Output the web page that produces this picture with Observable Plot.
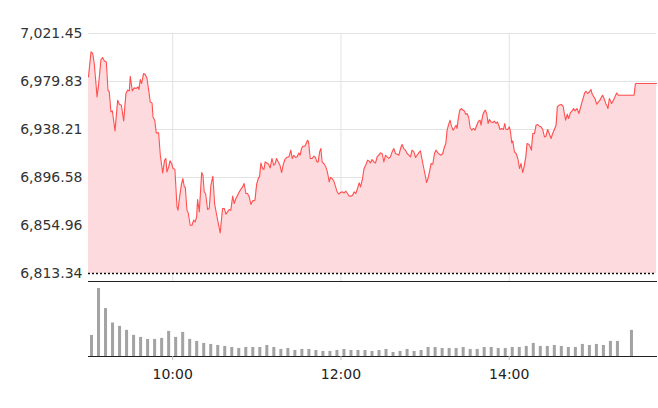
<!DOCTYPE html>
<html><head><meta charset="utf-8">
<script src="https://cdn.jsdelivr.net/npm/d3@7"></script>
<script src="https://cdn.jsdelivr.net/npm/@observablehq/plot@0.6"></script>
<style>
html,body{margin:0;padding:0;background:#fff;}
#chart svg{display:block;}
</style></head><body><div id="chart"></div>
<script>
// minutes after the 09:00 open
const minutes = [0,1.8,3.0,4.1,6.1,7.3,8.9,10.1,11.3,12.7,13.9,14.8,16.0,17.0,18.9,20.8,22.0,23.4,25.1,26.7,27.9,29.1,29.8,31.2,32.6,34.1,35.3,36.0,36.9,37.9,39.3,40.5,41.7,42.9,44.0,45.3,46.0,47.2,48.3,50.0,51.2,52.9,54.3,55.2,55.9,57.2,58.1,59.3,60.2,61.6,63.1,63.8,65.0,66.3,67.3,68.3,69.0,70.2,71.1,72.5,73.8,75.0,76.1,77.1,77.8,79.0,80.7,81.6,82.5,83.5,84.9,86.1,87.3,88.7,89.9,91.4,92.8,93.9,95.6,96.8,98.0,99.2,100.3,101.5,102.8,103.9,105.1,106.3,107.5,108.7,109.9,111.0,112.2,113.4,114.6,115.8,117.0,118.7,119.9,121.3,122.0,122.9,124.1,125.1,126.0,127.2,128.4,129.6,130.8,132.0,133.1,134.1,135.3,136.5,137.7,138.8,140.0,141.2,142.9,144.3,145.2,146.4,147.7,148.8,150.0,150.9,151.9,152.9,154.3,155.2,156.2,156.9,158.1,159.5,160.7,161.9,162.8,163.8,164.8,165.7,166.6,167.8,169.0,170.0,170.9,171.6,172.6,173.7,174.9,176.2,177.3,178.5,179.7,181.1,182.3,183.5,184.7,185.8,187.1,188.3,189.4,190.6,191.8,193.0,194.0,195.4,196.5,197.7,199.0,199.9,201.1,202.2,203.4,204.7,205.8,207.0,208.2,209.4,210.6,211.8,212.9,214.1,215.3,216.5,217.7,218.9,220.1,221.3,222.5,223.6,224.8,226.0,227.2,228.4,229.6,230.7,232.0,233.2,234.3,235.5,236.7,237.9,239.1,240.3,241.0,242.1,243.4,244.3,245.5,246.7,247.8,249.1,250.3,251.4,252.6,253.8,254.8,255.7,256.9,257.8,258.8,260.0,261.2,262.1,262.8,263.5,264.7,265.9,267.1,268.1,268.8,269.9,271.1,272.1,273.3,274.5,275.6,276.8,278.1,279.2,279.9,281.1,282.3,283.0,284.0,284.9,285.9,287.0,288.2,289.5,290.6,291.6,292.5,293.4,294.7,295.9,296.8,297.7,298.9,300.1,300.9,301.8,302.5,303.7,304.9,306.1,307.3,308.4,309.6,310.6,311.8,312.7,313.9,314.8,315.8,316.8,318.0,319.1,320.3,321.5,322.7,323.9,325.1,326.2,327.4,328.7,329.8,331.0,332.2,333.4,334.3,335.5,337.1,338.4,339.5,340.2,341.4,342.3,343.6,344.8,345.9,346.9,348.3,349.7,351.0,351.9,352.9,353.8,354.7,355.9,357.2,358.3,359.0,360.0,361.1,362.4,363.6,364.7,365.9,366.6,367.6,368.8,369.5,370.4,371.4,372.3,373.0,374.3,375.4,376.6,377.8,379.0,389.0,390.0,405.0];
const prices = [6983.8,7005.5,7004.1,6995.4,6966.5,6978.1,6998.9,7000.6,6997.7,6996.8,6972.3,6970.8,6953.5,6954.3,6937.0,6963.6,6960.1,6959.3,6945.7,6969.4,6972.3,6971.7,6984.4,6971.7,6974.3,6973.8,6975.1,6972.9,6981.6,6978.1,6986.8,6985.9,6982.4,6972.3,6962.1,6961.3,6949.1,6946.3,6935.3,6935.3,6915.9,6900.6,6911.6,6913.1,6901.4,6905.8,6911.0,6908.7,6904.4,6903.8,6871.1,6868.2,6879.8,6890.8,6895.7,6888.4,6888.4,6868.2,6865.9,6855.2,6855.2,6859.6,6858.1,6862.4,6877.5,6866.8,6900.9,6898.6,6884.1,6882.7,6868.8,6869.7,6889.9,6897.7,6874.0,6863.9,6855.2,6848.5,6869.7,6869.7,6864.8,6866.8,6868.8,6868.2,6880.4,6874.0,6878.4,6881.2,6884.1,6886.4,6888.4,6891.4,6882.7,6882.7,6879.8,6873.2,6876.3,6876.9,6890.8,6896.6,6897.1,6909.2,6904.4,6903.5,6910.1,6909.2,6908.1,6904.9,6913.1,6907.3,6908.7,6913.1,6910.1,6907.3,6900.9,6907.3,6912.2,6913.9,6914.5,6920.3,6913.1,6915.9,6913.9,6914.5,6917.9,6915.9,6921.7,6923.7,6923.7,6926.1,6928.9,6927.5,6913.1,6913.1,6915.1,6913.9,6910.1,6910.1,6918.8,6921.7,6910.1,6908.7,6906.4,6902.9,6897.7,6892.8,6896.6,6895.7,6893.6,6888.4,6884.1,6882.1,6883.6,6884.1,6883.2,6884.7,6882.7,6880.6,6880.4,6881.2,6884.1,6882.7,6887.0,6891.9,6888.4,6895.7,6904.4,6907.3,6911.6,6911.0,6909.2,6912.2,6910.1,6909.2,6914.5,6915.9,6917.9,6917.4,6910.1,6915.9,6914.5,6913.1,6914.5,6918.8,6921.7,6917.4,6916.8,6915.9,6921.7,6925.2,6921.7,6920.3,6917.4,6915.9,6914.5,6920.3,6918.8,6913.9,6915.9,6917.9,6919.7,6911.6,6904.4,6897.1,6892.2,6895.7,6902.9,6908.7,6908.1,6917.4,6920.3,6917.9,6916.8,6915.9,6917.4,6923.1,6926.1,6937.6,6942.8,6946.3,6941.1,6937.6,6939.9,6941.9,6939.1,6946.3,6954.9,6956.4,6954.9,6954.3,6951.5,6952.1,6948.6,6939.9,6937.6,6939.1,6937.6,6941.9,6945.4,6946.3,6941.9,6950.6,6954.1,6954.9,6951.5,6943.4,6946.9,6944.8,6944.3,6945.4,6943.4,6944.8,6941.9,6938.2,6939.1,6938.2,6943.4,6938.2,6938.2,6940.5,6936.1,6926.6,6928.3,6918.8,6917.4,6913.1,6904.4,6908.7,6900.9,6905.8,6914.5,6926.1,6925.5,6923.7,6920.3,6934.7,6934.7,6941.9,6942.5,6941.1,6940.5,6938.2,6931.8,6932.4,6938.2,6934.1,6930.4,6934.7,6938.2,6941.9,6957.8,6959.3,6959.9,6958.4,6950.6,6946.3,6951.5,6947.7,6952.6,6954.3,6956.4,6954.3,6956.4,6952.1,6957.8,6962.1,6966.0,6969.9,6971.4,6969.4,6970.8,6972.9,6969.4,6967.1,6965.1,6960.1,6962.1,6963.6,6966.5,6967.9,6965.1,6960.8,6959.3,6956.4,6965.1,6962.7,6960.8,6963.6,6966.5,6969.9,6967.9,6967.9,6967.9,6978.1,6978.1];
// 5-minute volume bars from 09:00 (relative units)
const volumes = [63,203,143,100,90,78,63,57,51,51,54,75,57,72,51,45,39,36,33,30,27,24,27,27,27,33,27,21,24,18,21,21,18,15,15,18,21,18,18,18,15,18,21,12,15,21,15,18,27,27,24,24,24,27,21,21,27,27,24,24,27,27,30,39,30,30,33,30,27,27,36,33,36,33,45,45,0,78];
const yTicks = [6813.34, 6854.96, 6896.58, 6938.21, 6979.83, 7021.45];
const xTickLabels = ["10:00", "12:00", "14:00"];
const sessionOpen = "09:00";
const sessionEnd = "15:45";
const barMinutes = 5;

const at = (hhmm) => { const [h, m] = hhmm.split(":").map(Number); return new Date(2024, 0, 2, h, m); };
const t0 = at(sessionOpen);
const addMin = (m) => new Date(t0.getTime() + m * 60000);
const series = minutes.map((m, i) => ({t: addMin(m), p: prices[i]}));
const volData = volumes.map((v, i) => ({t1: addMin(i * barMinutes), t2: addMin((i + 1) * barMinutes), v}));
const xTicks = xTickLabels.map(at);
const xDomain = [t0, at(sessionEnd)];
const font = "'DejaVu Sans', sans-serif";

const priceChart = Plot.plot({
  width: 658, height: 282,
  marginLeft: 88, marginRight: 2, marginTop: 33, marginBottom: 1,
  style: {fontFamily: font, fontSize: "14px", background: "#fff", overflow: "visible"},
  x: {type: "time", domain: xDomain, axis: null, label: null},
  y: {domain: [yTicks[0], yTicks[yTicks.length - 1]], insetBottom: 8, axis: null, label: null},
  marks: [
    Plot.gridY(yTicks.slice(1), {stroke: "#e2e2e2", strokeOpacity: 1}),
    Plot.gridX(xTicks, {stroke: "#e2e2e2", strokeOpacity: 1}),
    Plot.areaY(series, {x: "t", y1: yTicks[0], y2: "p", fill: "#fddadd"}),
    Plot.lineY(series, {x: "t", y: "p", stroke: "#ff5050", strokeWidth: 1.1}),
    Plot.ruleY([yTicks[0]], {stroke: "#111", strokeWidth: 1.5, strokeDasharray: "2,2"}),
    Plot.axisY(yTicks, {tickSize: 0, tickPadding: 6, tickFormat: d3.format(",.2f"), fill: "#333", fontSize: 14, label: null}),
    Plot.frame({anchor: "bottom", stroke: "#222"})
  ]
});

const volumeChart = Plot.plot({
  width: 658, height: 126,
  marginLeft: 88, marginRight: 2, marginTop: 6, marginBottom: 52,
  style: {fontFamily: font, fontSize: "14px", background: "#fff", overflow: "visible"},
  x: {type: "time", domain: xDomain, axis: null, label: null},
  y: {domain: [0, d3.max(volumes)], axis: null, label: null},
  marks: [
    Plot.rectY(volData, {x1: "t1", x2: "t2", y: "v", fill: "#a3a3a3", insetLeft: 2, insetRight: 2}),
    Plot.frame({anchor: "bottom", stroke: "#222"}),
    Plot.axisX(xTicks, {tickSize: 4, tickPadding: 9, tickFormat: d3.timeFormat("%H:%M"), stroke: "#bbb", fill: "#222", fontSize: 14, label: null})
  ]
});

const root = document.getElementById("chart");
root.append(priceChart, volumeChart);
</script>
</body></html>
